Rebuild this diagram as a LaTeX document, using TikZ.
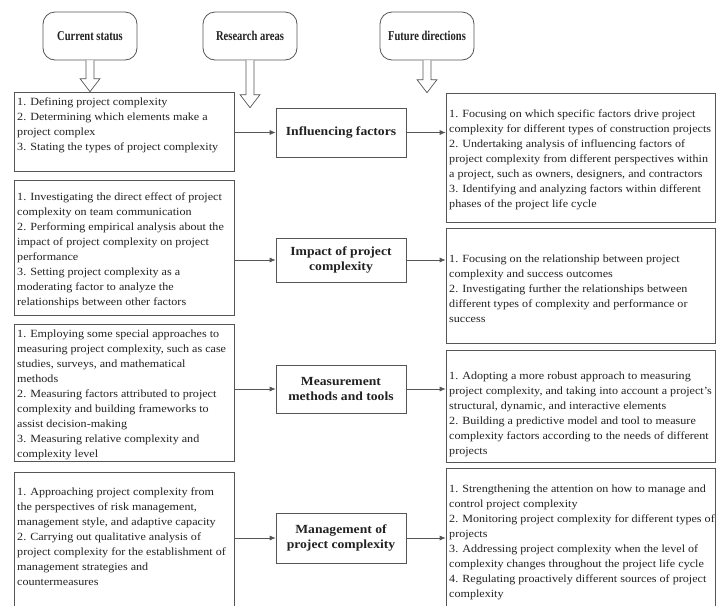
\documentclass[tikz,border=0pt]{standalone}
\usepackage{fontspec}
\setmainfont{Liberation Serif}[FakeStretch=1.1]
\newfontfamily\titlefont{Liberation Serif}[FakeStretch=0.78]
\usetikzlibrary{arrows.meta,calc}
\definecolor{edge}{HTML}{555555}
\definecolor{ink}{HTML}{222222}
\tikzset{
  titlebox/.style={draw=edge,line width=0.8pt,rounded corners=12pt,minimum width=94pt,minimum height=48pt,font=\titlefont\fontsize{13.5}{15}\selectfont\bfseries,text=ink},
  areabox/.style={draw=edge,line width=0.7pt,minimum width=130pt,align=center,font=\fontsize{12.4}{15}\selectfont\bfseries,text=ink},
  sidebox/.style={draw=edge,line width=0.7pt,inner sep=0pt},
  bodytext/.style={anchor=north west,inner sep=0pt,align=left,text=ink,font=\fontsize{11}{15}\selectfont},
  conn/.style={draw=edge,line width=0.7pt,-{Latex[length=6pt,width=5pt]}},
  hollow/.style={draw=edge,line width=0.7pt,fill=white}
}
\newcommand{\hollowarrow}[2]{%
  \draw[hollow] let \p1=(#1.south), \p2=(#2.north) in
    (\x1-4pt,\y1) -- (\x1-4pt,\y2+13pt) -- (\x1-10pt,\y2+13pt) -- (\x1,\y2)
    -- (\x1+10pt,\y2+13pt) -- (\x1+4pt,\y2+13pt) -- (\x1+4pt,\y1);}
\begin{document}
\begin{tikzpicture}[x=1pt,y=-1pt]
\clip (0,0) rectangle (716,606);
\fill[white] (0,0) rectangle (716,606);
% titles
\node[titlebox] (t1) at (90,36) {Current status};
\node[titlebox] (t2) at (250,36) {Research areas};
\node[titlebox] (t3) at (427,36) {Future directions};
% left boxes
\node[sidebox,minimum width=220pt,minimum height=79pt] (l1) at (124,131.5) {};
\node[sidebox,minimum width=220pt,minimum height=135pt] (l2) at (124,247.5) {};
\node[sidebox,minimum width=220pt,minimum height=137pt] (l3) at (124,392.5) {};
\node[sidebox,minimum width=220pt,minimum height=148pt] (l4) at (124,546) {};
% middle boxes
\node[areabox,minimum height=49pt] (m1) at (341,132.5) {Influencing factors};
\node[areabox,minimum height=44pt] (m2) at (341,260) {Impact of project\\complexity};
\node[areabox,minimum height=48pt] (m3) at (341,389) {Measurement\\methods and tools};
\node[areabox,minimum height=50pt] (m4) at (341,538) {Management of\\project complexity};
% right boxes
\node[sidebox,minimum width=269pt,minimum height=129pt] (r1) at (580.5,157.5) {};
\node[sidebox,minimum width=269pt,minimum height=115pt] (r2) at (580.5,285.5) {};
\node[sidebox,minimum width=269pt,minimum height=112pt] (r3) at (580.5,406) {};
\node[sidebox,minimum width=269pt,minimum height=152pt] (r4) at (580.5,544) {};
% hollow arrows
\hollowarrow{t1}{l1}
\hollowarrow{t2}{m1}
\hollowarrow{t3}{r1}
% texts left
\node[bodytext] (lt1) at (17,98) {1. Defining project complexity\\2. Determining which elements make a\\project complex\\3. Stating the types of project complexity};
\node[bodytext] (lt2) at (17,193) {1. Investigating the direct effect of project\\complexity on team communication\\2. Performing empirical analysis about the\\impact of project complexity on project\\performance\\3. Setting project complexity as a\\moderating factor to analyze the\\relationships between other factors};
\node[bodytext] (lt3) at (17,330) {1. Employing some special approaches to\\measuring project complexity, such as case\\studies, surveys, and mathematical\\methods\\2. Measuring factors attributed to project\\complexity and building frameworks to\\assist decision-making\\3. Measuring relative complexity and\\complexity level};
\node[bodytext] (lt4) at (17,488) {1. Approaching project complexity from\\the perspectives of risk management,\\management style, and adaptive capacity\\2. Carrying out qualitative analysis of\\project complexity for the establishment of\\management strategies and\\countermeasures};
% texts right
\node[bodytext] (rt1) at (449,110) {1. Focusing on which specific factors drive project\\complexity for different types of construction projects\\2. Undertaking analysis of influencing factors of\\project complexity from different perspectives within\\a project, such as owners, designers, and contractors\\3. Identifying and analyzing factors within different\\phases of the project life cycle};
\node[bodytext] (rt2) at (449,255) {1. Focusing on the relationship between project\\complexity and success outcomes\\2. Investigating further the relationships between\\different types of complexity and performance or\\success};
\node[bodytext] (rt3) at (449,372) {1. Adopting a more robust approach to measuring\\project complexity, and taking into account a project's\\structural, dynamic, and interactive elements\\2. Building a predictive model and tool to measure\\complexity factors according to the needs of different\\projects};
\node[bodytext] (rt4) at (449,485) {1. Strengthening the attention on how to manage and\\control project complexity\\2. Monitoring project complexity for different types of\\projects\\3. Addressing project complexity when the level of\\complexity changes throughout the project life cycle\\4. Regulating proactively different sources of project\\complexity};
% connectors
\draw[conn] (l1.east |- m1.west) -- (m1.west);
\draw[conn] (m1.east) -- (m1.east -| r1.west);
\draw[conn] (l2.east |- m2.west) -- (m2.west);
\draw[conn] (m2.east) -- (m2.east -| r2.west);
\draw[conn] (l3.east |- m3.west) -- (m3.west);
\draw[conn] (m3.east) -- (m3.east -| r3.west);
\draw[conn] (l4.east |- m4.west) -- (m4.west);
\draw[conn] (m4.east) -- (m4.east -| r4.west);
\end{tikzpicture}
\end{document}
